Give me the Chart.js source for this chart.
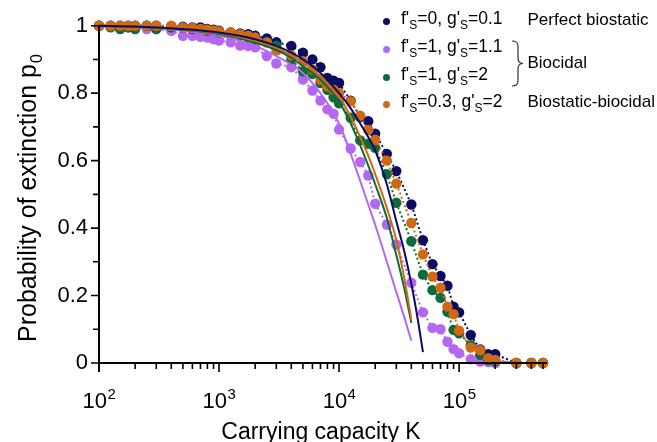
<!DOCTYPE html>
<html>
<head>
<meta charset="utf-8">
<script src="https://cdn.jsdelivr.net/npm/chart.js@4.4.1/dist/chart.umd.min.js"></script>
<style>
  body { margin: 0; background: #fff; }
  #wrap { position: relative; width: 657px; height: 442px; font-family: "Liberation Sans", Arial, sans-serif; color: #000; }
  .dot { position: absolute; width: 7px; height: 7px; border-radius: 50%; }
  .lab { position: absolute; font-size: 17.5px; line-height: 17px; white-space: nowrap; }
  .lab sub { font-size: 12px; vertical-align: -5px; line-height: 0; }
</style>
</head>
<body>
<div id="wrap">
  <canvas id="chart" width="657" height="442"></canvas>
  <span class="dot" style="left:383px;top:18px;background:#0b0b62"></span>
  <span class="dot" style="left:383px;top:46px;background:#b468f2"></span>
  <span class="dot" style="left:383px;top:74px;background:#0e6a3c"></span>
  <span class="dot" style="left:383px;top:101px;background:#cf6a12"></span>
  <div class="lab" style="left:401px;top:10.3px">f'<sub>S</sub>=0, g'<sub>S</sub>=0.1</div>
  <div class="lab" style="left:401px;top:38px">f'<sub>S</sub>=1, g'<sub>S</sub>=1.1</div>
  <div class="lab" style="left:401px;top:65.6px">f'<sub>S</sub>=1, g'<sub>S</sub>=2</div>
  <div class="lab" style="left:401px;top:93.3px">f'<sub>S</sub>=0.3, g'<sub>S</sub>=2</div>
  <div class="lab" style="left:527.5px;top:11.3px;font-size:17px">Perfect biostatic</div>
  <div class="lab" style="left:527.5px;top:53.6px;font-size:17px">Biocidal</div>
  <div class="lab" style="left:527.5px;top:93.3px;font-size:17px">Biostatic-biocidal</div>
</div>
<script>
// carrying capacity K of the simulated points
var K = [100,125,150,175,200,250,300,400,500,600,700,800,900,
  1000,1250,1500,1750,2000,2500,3000,4000,5000,6000,7000,8000,9000,
  10000,12500,15000,17500,20000,25000,30000,40000,50000,60000,70000,80000,90000,
  100000,125000,150000,175000,200000,300000,400000,500000];

// simulated extinction probability p0
var pBiostatic = [1,1,1,1,1,1,1,0.998,0.997,0.995,0.995,0.99,0.988,
  0.985,0.98,0.977,0.975,0.97,0.962,0.951,0.94,0.92,0.9,0.877,0.845,0.837,
  0.83,0.778,0.729,0.717,0.68,0.62,0.569,0.47,0.364,0.293,0.258,0.229,0.167,
  0.15,0.083,0.04,0.026,0.026,0,0,0];
var pBiocidal11 = [1,1,0.998,0.995,0.995,0.99,0.99,0.985,0.97,0.97,0.967,0.965,0.96,
  0.956,0.951,0.941,0.94,0.936,0.91,0.888,0.877,0.84,0.808,0.778,0.752,0.739,
  0.692,0.636,0.596,0.556,0.472,0.41,0.351,0.238,0.15,0.104,0.1,0.063,0.041,
  0.029,0.011,0.004,0.003,0,0,0,0];
var pBiocidal2 = [1,0.995,0.99,0.995,0.99,1,0.99,0.995,0.995,0.99,0.99,0.985,0.985,
  0.98,0.975,0.97,0.965,0.96,0.952,0.941,0.9,0.865,0.857,0.83,0.81,0.788,
  0.77,0.727,0.66,0.65,0.638,0.56,0.475,0.361,0.262,0.216,0.193,0.152,0.098,
  0.088,0.053,0.024,0.009,0.005,0,0,0];
var pMixed = [1,1,1,1,1,1,1,1,0.995,0.993,0.99,0.988,0.985,
  0.983,0.98,0.975,0.97,0.965,0.95,0.926,0.912,0.895,0.87,0.84,0.82,0.81,
  0.8,0.776,0.733,0.691,0.662,0.6,0.532,0.415,0.322,0.256,0.223,0.167,0.145,
  0.096,0.046,0.038,0.014,0.009,0,0,0];

// analytical approximation (solid lines)
var kTheory = [100,300,1000,2000,3000,4000,5000,7000,10000,12500,15000,17500,20000,25000,30000,35000,40000,45000,50000];
var thBiostatic = [1,0.995,0.98,0.96,0.94,0.92,0.9,0.86,0.8,0.755,0.71,0.67,0.63,0.53,0.42,0.33,0.235,0.135,0.032];
var thBiocidal11 = [1,0.993,0.97,0.94,0.91,0.885,0.86,0.8,0.71,0.62,0.54,0.47,0.41,0.3,0.21,0.135,0.066,null,null];
var thBiocidal2 = [1,0.994,0.975,0.95,0.928,0.905,0.88,0.84,0.775,0.71,0.645,0.585,0.53,0.43,0.32,0.22,0.119,null,null];
var thMixed = [1,0.995,0.978,0.955,0.935,0.912,0.89,0.85,0.79,0.73,0.67,0.615,0.56,0.46,0.364,0.25,0.129,null,null];

var xTicks = [100, 1000, 10000, 100000];
var yTicks = [0, 0.2, 0.4, 0.6, 0.8, 1];

var NAVY = '#0b0b62', PURPLE = '#b468f2', GREEN = '#0e6a3c', ORANGE = '#cf6a12';
var FONT = '"Liberation Sans", Arial, sans-serif';

function pts(xs, ys) {
  return xs.map(function (x, i) { return { x: x, y: ys[i] }; });
}

function simSet(ys, color, order) {
  return {
    data: pts(K, ys), order: order, showLine: true, clip: false,
    borderColor: color, borderWidth: 2, borderDash: [2, 2.5],
    pointRadius: 5.2, pointBackgroundColor: color, pointBorderWidth: 0
  };
}

function theorySet(ys, color, order) {
  return {
    data: pts(kTheory, ys), order: order, showLine: true, clip: false,
    borderColor: color, borderWidth: 2, pointRadius: 0,
    cubicInterpolationMode: 'monotone'
  };
}

// axes, ticks, tick labels and titles
var axisPlugin = {
  id: 'axisDecor',
  afterDraw: function (chart) {
    var ctx = chart.ctx, xs = chart.scales.x, ys = chart.scales.y;
    var a = chart.chartArea;
    ctx.save();
    ctx.strokeStyle = '#000';
    ctx.lineWidth = 2;
    ctx.beginPath();
    ctx.moveTo(a.left, ys.getPixelForValue(1));
    ctx.lineTo(a.left, a.bottom + 9);
    ctx.moveTo(a.left - 1, a.bottom);
    ctx.lineTo(a.right, a.bottom);
    ctx.stroke();

    ctx.lineWidth = 1.6;
    ctx.beginPath();
    for (var e = 2; e <= 5; e++) {
      for (var m = 1; m <= 9; m++) {
        var v = m * Math.pow(10, e);
        if (v > xs.max) break;
        var px = xs.getPixelForValue(v);
        ctx.moveTo(px, a.bottom);
        ctx.lineTo(px, a.bottom + (m === 1 ? 9 : 6));
      }
    }
    for (var j = 0; j <= 10; j++) {
      var py = ys.getPixelForValue(j / 10);
      ctx.moveTo(a.left, py);
      ctx.lineTo(a.left - (j % 2 === 0 ? 8 : 6), py);
    }
    ctx.stroke();

    ctx.fillStyle = '#000';
    ctx.textBaseline = 'alphabetic';
    ctx.textAlign = 'left';
    xTicks.forEach(function (v) {
      var ex = String(Math.round(Math.log10(v)));
      ctx.font = '22px ' + FONT;
      var w1 = ctx.measureText('10').width;
      ctx.font = '15px ' + FONT;
      var w2 = ctx.measureText(ex).width;
      var x0 = xs.getPixelForValue(v) - (w1 + w2) / 2;
      ctx.font = '22px ' + FONT;
      ctx.fillText('10', x0, 408);
      ctx.font = '15px ' + FONT;
      ctx.fillText(ex, x0 + w1 + 0.5, 398.5);
    });

    ctx.font = '23px ' + FONT;
    ctx.textAlign = 'center';
    ctx.fillText('Carrying capacity K', (a.left + a.right) / 2 - 2, 439);

    ctx.translate(36, 342);
    ctx.rotate(-Math.PI / 2);
    ctx.textAlign = 'left';
    ctx.font = '25px ' + FONT;
    var t = 'Probability of extinction p';
    ctx.fillText(t, 0, 0);
    var tw = ctx.measureText(t).width;
    ctx.font = '16px ' + FONT;
    ctx.fillText('0', tw + 1, 5.5);
    ctx.restore();

    // brace next to the two biocidal entries
    ctx.save();
    ctx.strokeStyle = '#333';
    ctx.lineWidth = 1.2;
    ctx.beginPath();
    ctx.moveTo(512, 41);
    ctx.quadraticCurveTo(518, 41, 518, 46);
    ctx.lineTo(518, 58);
    ctx.quadraticCurveTo(518, 63.5, 523, 63.5);
    ctx.quadraticCurveTo(518, 63.5, 518, 69);
    ctx.lineTo(518, 81);
    ctx.quadraticCurveTo(518, 86, 512, 86);
    ctx.stroke();
    ctx.restore();
  }
};

new Chart(document.getElementById('chart'), {
  type: 'scatter',
  data: {
    datasets: [
      theorySet(thBiostatic, NAVY, 0),
      theorySet(thMixed, ORANGE, 1),
      theorySet(thBiocidal2, GREEN, 2),
      theorySet(thBiocidal11, PURPLE, 3),
      simSet(pMixed, ORANGE, 4),
      simSet(pBiocidal2, GREEN, 5),
      simSet(pBiocidal11, PURPLE, 6),
      simSet(pBiostatic, NAVY, 7)
    ]
  },
  options: {
    responsive: false,
    animation: false,
    events: [],
    layout: { padding: { top: 25.7, right: 110, left: 0, bottom: 0 } },
    plugins: { legend: { display: false }, tooltip: { enabled: false } },
    scales: {
      x: {
        type: 'logarithmic', min: 100, max: 540000,
        grid: { display: false, drawTicks: false },
        border: { display: false },
        ticks: { display: false },
        afterFit: function (s) { s.height = 79; }
      },
      y: {
        min: 0, max: 1,
        grid: { display: false, drawTicks: false },
        border: { display: false },
        afterBuildTicks: function (s) { s.ticks = yTicks.map(function (v) { return { value: v }; }); },
        ticks: {
          color: '#000', padding: 11, font: { size: 22, family: FONT },
          callback: function (v) { return String(v); }
        },
        afterFit: function (s) { s.width = 99; }
      }
    }
  },
  plugins: [axisPlugin]
});
</script>
</body>
</html>
